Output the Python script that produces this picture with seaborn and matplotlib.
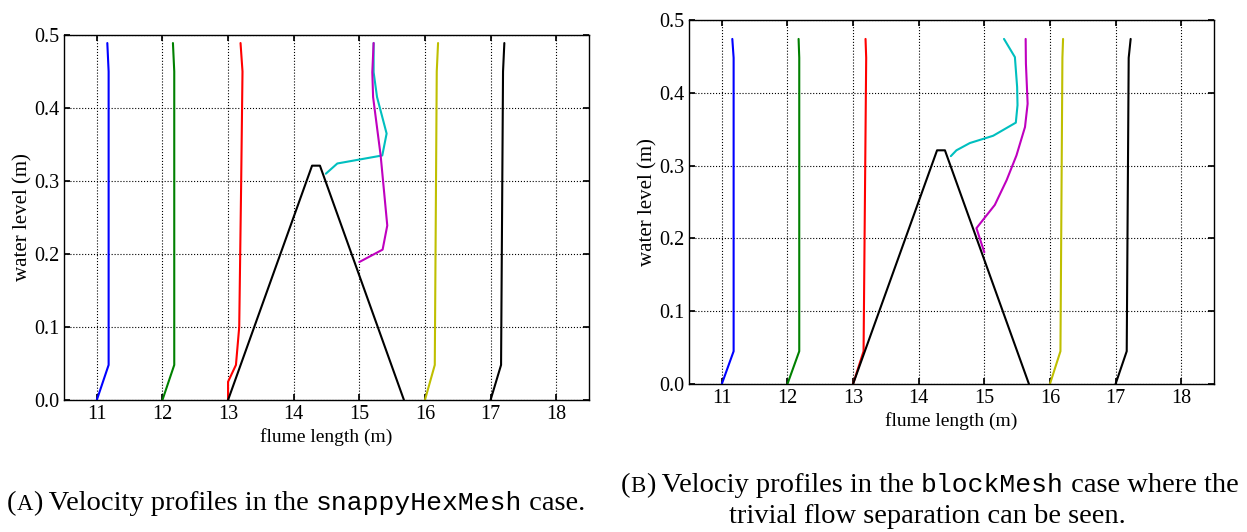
import numpy as np
import pandas as pd
import matplotlib
matplotlib.use("Agg")
import matplotlib.pyplot as plt
import seaborn as sns

# ---- data ----
x_ticks = [11, 12, 13, 14, 15, 16, 17, 18]
y_ticks = [0.0, 0.1, 0.2, 0.3, 0.4, 0.5]

# weir / hump outline (same in both cases)
hump_x = [13.0, 14.28, 14.40, 15.68]
hump_y = [0.0, 0.321, 0.321, 0.0]

# (A) snappyHexMesh case
a_heights = [0.0, 0.048, 0.45, 0.489]
a_blue = [11.0, 11.18, 11.18, 11.16]
a_green = [12.0, 12.18, 12.18, 12.16]
a_red_heights = [0.0, 0.025, 0.048, 0.10, 0.30, 0.45, 0.489]
a_red = [13.0, 13.0, 13.12, 13.17, 13.20, 13.22, 13.19]
a_yellow = [16.0, 16.15, 16.18, 16.20]
a_black = [17.0, 17.16, 17.19, 17.21]
a_cyan_x = [14.49, 14.665, 15.35, 15.416, 15.27, 15.218, 15.218]
a_cyan_y = [0.310, 0.324, 0.335, 0.365, 0.415, 0.449, 0.489]
a_magenta_x = [15.0, 15.355, 15.426, 15.325, 15.21, 15.198, 15.218]
a_magenta_y = [0.189, 0.206, 0.239, 0.335, 0.415, 0.449, 0.489]

# (B) blockMesh case
b_heights = [0.0, 0.045, 0.448, 0.474]
b_blue = [11.0, 11.18, 11.18, 11.16]
b_green = [12.0, 12.18, 12.18, 12.17]
b_red = [13.0, 13.16, 13.20, 13.19]
b_yellow = [16.0, 16.16, 16.19, 16.20]
b_black = [17.0, 17.17, 17.20, 17.23]
b_cyan_x = [14.49, 14.575, 14.78, 15.135, 15.48, 15.506, 15.50, 15.466, 15.30]
b_cyan_y = [0.313, 0.321, 0.331, 0.341, 0.359, 0.383, 0.408, 0.449, 0.474]
b_magenta_x = [15.0, 14.88, 15.16, 15.34, 15.49, 15.62, 15.66, 15.634, 15.63]
b_magenta_y = [0.181, 0.214, 0.246, 0.280, 0.314, 0.353, 0.385, 0.440, 0.474]

BLUE, GREEN, RED = "#0000ff", "#008000", "#ff0000"
CYAN, MAGENTA, YELLOW, BLACK = "#00bfbf", "#bf00bf", "#bfbf00", "#000000"

SERIF = ["Liberation Serif", "DejaVu Serif"]
MONO = ["Liberation Mono", "DejaVu Sans Mono"]

sns.set_theme(style="white")
plt.rcParams.update({
    "font.family": SERIF,
    "axes.edgecolor": "black",
    "axes.linewidth": 1.0,
    "xtick.direction": "in",
    "ytick.direction": "in",
    "xtick.top": True,
    "ytick.right": True,
    "xtick.bottom": True,
    "ytick.left": True,
    "xtick.major.size": 4,
    "ytick.major.size": 4,
    "xtick.color": "black",
    "ytick.color": "black",
    "xtick.labelsize": 14.5,
    "ytick.labelsize": 14.5,
    "text.color": "black",
    "axes.labelcolor": "black",
})


def line(ax, xs, ys, color):
    df = pd.DataFrame({"x": xs, "y": ys})
    sns.lineplot(data=df, x="x", y="y", sort=False, estimator=None,
                 color=color, linewidth=1.5, ax=ax)


def panel(ax, heights, profiles, red_heights, cyan, magenta):
    blue, green, red, yellow, black = profiles
    line(ax, blue, heights, BLUE)
    line(ax, green, heights, GREEN)
    line(ax, red, red_heights, RED)
    line(ax, cyan[0], cyan[1], CYAN)
    line(ax, magenta[0], magenta[1], MAGENTA)
    line(ax, yellow, heights, YELLOW)
    line(ax, black, heights, BLACK)
    line(ax, hump_x, hump_y, BLACK)

    ax.set_xlim(10.5, 18.5)
    ax.set_ylim(0.0, 0.5)
    ax.set_xticks(x_ticks)
    ax.set_yticks(y_ticks)
    ax.set_yticklabels([f"{v:.1f}" for v in y_ticks])
    ax.grid(True, color="black", linestyle=":", linewidth=0.8)
    ax.set_axisbelow(True)
    ax.set_xlabel("flume length (m)", fontsize=14, labelpad=3)
    ax.set_ylabel("water level (m)", fontsize=15, labelpad=1)
    for s in ax.spines.values():
        s.set_visible(True)
        s.set_color("black")


fig = plt.figure(figsize=(12.47, 5.32), dpi=100)
ax_a = fig.add_axes([64 / 1247, 1 - 400 / 532, 525 / 1247, 365 / 532])
ax_b = fig.add_axes([689 / 1247, 1 - 384 / 532, 525 / 1247, 364 / 532])

panel(ax_a, a_heights, (a_blue, a_green, a_red, a_yellow, a_black),
      a_red_heights, (a_cyan_x, a_cyan_y), (a_magenta_x, a_magenta_y))
panel(ax_b, b_heights, (b_blue, b_green, b_red, b_yellow, b_black),
      b_heights, (b_cyan_x, b_cyan_y), (b_magenta_x, b_magenta_y))


def chain(x, y, parts):
    # text pieces set one after another on a shared baseline
    texts = []
    for txt, fam, size in parts:
        t = fig.text(x, y, txt, family=fam, fontsize=size,
                     ha="left", va="baseline")
        texts.append(t)
    return texts


def place_chain(texts):
    fig.canvas.draw()
    renderer = fig.canvas.get_renderer()
    x0, y0 = texts[0].get_position()
    x_px = texts[0].get_window_extent(renderer).x1
    for t in texts[1:]:
        t.set_position((x_px / fig.bbox.width, y0))
        x_px = t.get_window_extent(renderer).x1


CAP = 20.5
cap_a = chain(7 / 1247, 1 - 510 / 532, [
    ("(", SERIF, CAP), ("A", SERIF, CAP * 0.8), (")", SERIF, CAP),
    (" Velocity profiles in the ", SERIF, CAP),
    ("snappyHexMesh", MONO, 19),
    (" case.", SERIF, CAP),
])
cap_b = chain(621 / 1247, 1 - 492 / 532, [
    ("(", SERIF, CAP), ("B", SERIF, CAP * 0.8), (")", SERIF, CAP),
    (" Velociy profiles in the ", SERIF, CAP),
    ("blockMesh", MONO, 19),
    (" case where the", SERIF, CAP),
])
fig.text(927 / 1247, 1 - 523 / 532, "trivial flow separation can be seen.",
         family=SERIF, fontsize=CAP, ha="center", va="baseline")

place_chain(cap_a)
place_chain(cap_b)

fig.savefig("out.png", dpi=100)
